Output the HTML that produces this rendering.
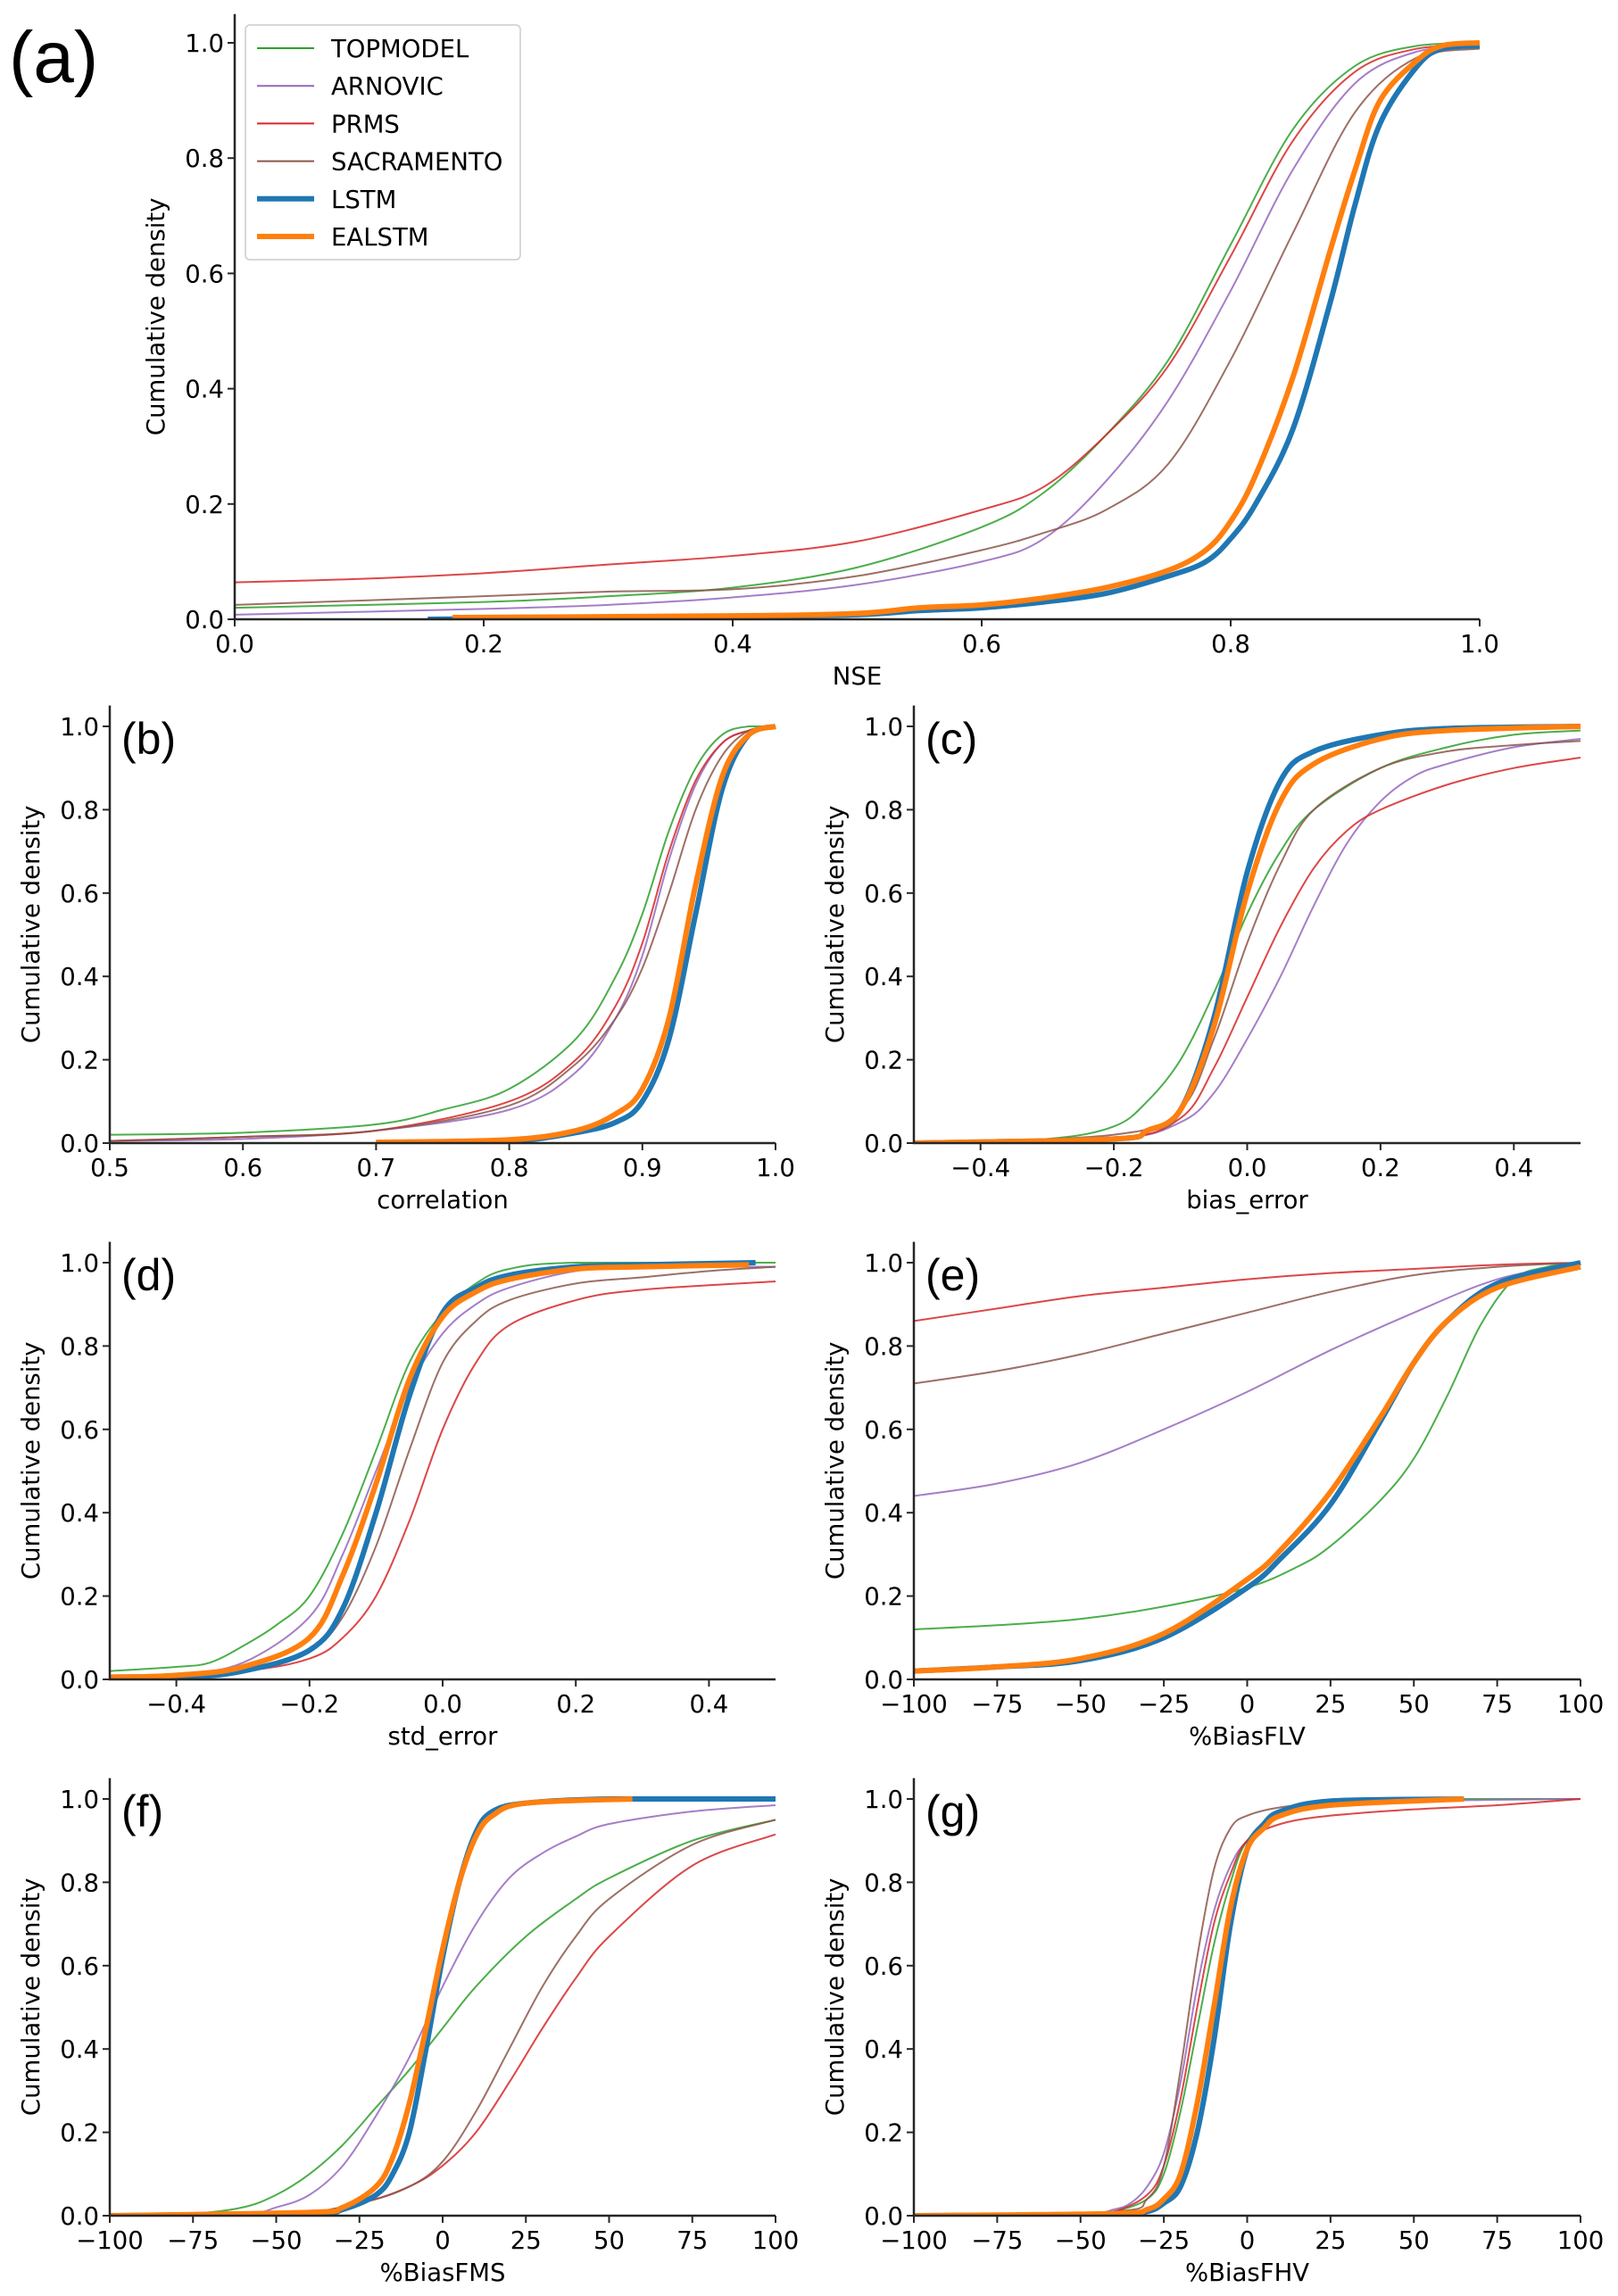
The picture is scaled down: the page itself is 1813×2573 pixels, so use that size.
<!DOCTYPE html>
<html><head><meta charset="utf-8">
<style>
html,body{margin:0;padding:0;background:#fff;}
svg{display:block;}
text{font-family:"DejaVu Sans","Liberation Sans",sans-serif;fill:#000;}
.pl{font-family:"Liberation Sans",sans-serif;}
</style></head>
<body>
<svg id="fig" width="1813" height="2573" viewBox="0 0 1813 2573" xmlns="http://www.w3.org/2000/svg"></svg>
<script>
const models = ["TOPMODEL","ARNOVIC","PRMS","SACRAMENTO","LSTM","EALSTM"];
const colors = ["#2ca02c","#9467bd","#d62728","#8c564b","#1f77b4","#ff7f0e"];

// Panel (a) NSE
const aX = [[0,0.2,0.3,0.4,0.5,0.6,0.65,0.7,0.75,0.8,0.85,0.9,0.95,1],
 [0,0.2,0.3,0.4,0.5,0.6,0.65,0.7,0.75,0.8,0.85,0.9,0.95,1],
 [0,0.1,0.2,0.3,0.4,0.5,0.6,0.65,0.7,0.75,0.8,0.85,0.9,0.95,1],
 [0,0.2,0.3,0.4,0.5,0.6,0.65,0.7,0.75,0.8,0.85,0.9,0.95,1],
 [0.155,0.3,0.4,0.5,0.55,0.6,0.65,0.7,0.75,0.78,0.8,0.82,0.85,0.88,0.9,0.92,0.95,0.97,1],
 [0.175,0.4,0.5,0.55,0.6,0.65,0.7,0.75,0.78,0.8,0.82,0.85,0.88,0.9,0.92,0.95,0.97,1]];
const aY = [[0.02,0.03,0.04,0.055,0.09,0.16,0.22,0.32,0.45,0.65,0.85,0.96,0.995,1],
 [0.008,0.018,0.025,0.038,0.06,0.1,0.14,0.24,0.38,0.57,0.78,0.93,0.985,0.995],
 [0.064,0.07,0.08,0.095,0.11,0.135,0.19,0.23,0.32,0.44,0.63,0.83,0.95,0.99,0.997],
 [0.025,0.04,0.048,0.052,0.075,0.12,0.15,0.19,0.27,0.45,0.67,0.88,0.975,0.99],
 [0,0.003,0.005,0.008,0.015,0.02,0.03,0.045,0.075,0.1,0.14,0.2,0.33,0.55,0.72,0.86,0.96,0.99,0.995],
 [0.003,0.006,0.01,0.02,0.025,0.037,0.055,0.085,0.12,0.17,0.25,0.42,0.64,0.78,0.9,0.97,0.995,1]];
// Panel (b) correlation
const bX = [[0.5,0.6,0.7,0.75,0.8,0.85,0.88,0.9,0.92,0.94,0.96,0.98,1],
 [0.5,0.6,0.7,0.8,0.85,0.88,0.9,0.92,0.94,0.96,0.98,1],
 [0.5,0.6,0.7,0.8,0.85,0.88,0.9,0.92,0.94,0.96,0.98,1],
 [0.5,0.6,0.7,0.8,0.85,0.88,0.9,0.92,0.94,0.96,0.98,1],
 [0.7,0.8,0.85,0.88,0.9,0.92,0.94,0.96,0.98,1],
 [0.7,0.8,0.85,0.88,0.9,0.92,0.94,0.96,0.98,1]];
const bY = [[0.02,0.025,0.045,0.08,0.13,0.25,0.4,0.55,0.75,0.9,0.98,1,1],
 [0.005,0.01,0.03,0.08,0.17,0.3,0.45,0.68,0.86,0.96,0.99,1],
 [0.005,0.015,0.03,0.1,0.2,0.33,0.48,0.7,0.87,0.96,0.99,1],
 [0.005,0.015,0.03,0.09,0.19,0.3,0.42,0.6,0.8,0.93,0.99,1],
 [0,0.005,0.025,0.05,0.1,0.25,0.55,0.85,0.98,1],
 [0.002,0.008,0.03,0.07,0.13,0.3,0.62,0.88,0.98,1]];
// Panel (c) bias_error
const cX = [[-0.5,-0.3,-0.2,-0.15,-0.1,-0.05,0,0.05,0.1,0.2,0.3,0.4,0.5],
 [-0.5,-0.2,-0.1,-0.05,0,0.05,0.1,0.15,0.2,0.25,0.3,0.4,0.5],
 [-0.5,-0.2,-0.1,-0.05,0,0.05,0.1,0.15,0.2,0.3,0.4,0.5],
 [-0.5,-0.2,-0.1,-0.05,0,0.05,0.1,0.2,0.3,0.4,0.5],
 [-0.5,-0.2,-0.15,-0.1,-0.05,0,0.05,0.1,0.2,0.3,0.5],
 [-0.5,-0.2,-0.15,-0.1,-0.05,0,0.05,0.1,0.2,0.3,0.5]];
const cY = [[0,0.01,0.04,0.1,0.2,0.36,0.55,0.7,0.8,0.9,0.95,0.98,0.99],
 [0,0.01,0.05,0.12,0.25,0.4,0.57,0.72,0.82,0.88,0.91,0.95,0.97],
 [0,0.01,0.06,0.18,0.35,0.52,0.66,0.75,0.8,0.86,0.9,0.925],
 [0,0.02,0.08,0.25,0.48,0.67,0.8,0.9,0.94,0.955,0.965],
 [0,0.01,0.03,0.08,0.3,0.65,0.87,0.94,0.98,0.995,1],
 [0,0.01,0.03,0.08,0.28,0.6,0.82,0.91,0.97,0.99,1]];
// Panel (d) std_error
const dX = [[-0.5,-0.4,-0.35,-0.3,-0.25,-0.2,-0.15,-0.1,-0.05,0,0.05,0.1,0.2,0.5],
 [-0.5,-0.4,-0.3,-0.2,-0.15,-0.1,-0.05,0,0.05,0.1,0.2,0.3,0.5],
 [-0.5,-0.3,-0.2,-0.15,-0.1,-0.05,0,0.05,0.1,0.2,0.3,0.5],
 [-0.5,-0.3,-0.2,-0.15,-0.1,-0.05,0,0.05,0.1,0.2,0.3,0.4,0.5],
 [-0.5,-0.4,-0.3,-0.2,-0.15,-0.1,-0.05,0,0.05,0.1,0.2,0.3,0.47],
 [-0.5,-0.4,-0.3,-0.2,-0.15,-0.1,-0.05,0,0.05,0.1,0.2,0.3,0.46]];
const dY = [[0.02,0.03,0.04,0.08,0.13,0.2,0.35,0.55,0.76,0.88,0.95,0.985,1,1],
 [0.01,0.012,0.04,0.15,0.3,0.5,0.7,0.83,0.9,0.94,0.98,0.99,0.99],
 [0,0.02,0.05,0.1,0.2,0.38,0.6,0.76,0.85,0.91,0.935,0.955],
 [0,0.02,0.07,0.15,0.32,0.55,0.76,0.86,0.91,0.95,0.965,0.98,0.99],
 [0,0.003,0.02,0.07,0.17,0.4,0.68,0.88,0.94,0.97,0.99,0.995,1],
 [0.005,0.01,0.03,0.1,0.25,0.47,0.72,0.87,0.93,0.96,0.985,0.99,0.995]];
// Panel (e) %BiasFLV
const eX = [[-100,-75,-50,-25,0,15,25,40,50,60,70,80,90,100],
 [-100,-75,-50,-25,0,25,50,75,100],
 [-100,-75,-50,-25,0,25,50,75,100],
 [-100,-75,-50,-25,0,25,50,75,100],
 [-100,-75,-50,-25,0,10,25,40,50,60,75,100],
 [-100,-75,-50,-25,0,10,25,40,50,60,75,100]];
const eY = [[0.12,0.13,0.145,0.175,0.22,0.27,0.32,0.43,0.53,0.68,0.85,0.96,0.99,1],
 [0.44,0.47,0.52,0.6,0.69,0.79,0.88,0.96,1],
 [0.86,0.89,0.92,0.94,0.96,0.975,0.985,0.995,1],
 [0.71,0.74,0.78,0.83,0.88,0.93,0.97,0.99,1],
 [0.02,0.03,0.045,0.1,0.22,0.29,0.42,0.62,0.76,0.86,0.95,1],
 [0.02,0.03,0.05,0.11,0.24,0.31,0.45,0.63,0.76,0.86,0.94,0.99]];
// Panel (f) %BiasFMS
const fX = [[-100,-75,-60,-50,-40,-30,-20,-10,0,10,25,40,50,75,100],
 [-100,-60,-50,-40,-30,-20,-10,0,10,20,30,40,50,75,100],
 [-100,-50,-25,-10,0,10,20,30,40,50,75,100],
 [-100,-50,-25,-10,0,10,20,30,40,50,75,100],
 [-100,-40,-30,-20,-15,-10,-5,0,5,10,15,25,50,100],
 [-100,-40,-30,-20,-15,-10,-5,0,5,10,15,25,57]];
const fY = [[0,0.005,0.02,0.05,0.1,0.17,0.26,0.35,0.45,0.55,0.67,0.76,0.81,0.9,0.95],
 [0,0.005,0.02,0.05,0.12,0.24,0.38,0.55,0.7,0.81,0.87,0.91,0.94,0.97,0.985],
 [0,0,0.03,0.07,0.12,0.2,0.32,0.45,0.57,0.67,0.84,0.915],
 [0,0,0.03,0.07,0.13,0.25,0.4,0.55,0.67,0.76,0.89,0.95],
 [0,0.005,0.015,0.05,0.1,0.2,0.4,0.62,0.8,0.92,0.97,0.99,1,1],
 [0,0.008,0.02,0.07,0.14,0.27,0.45,0.64,0.8,0.91,0.96,0.99,1]];
// Panel (g) %BiasFHV
const gX = [[-100,-50,-40,-30,-25,-20,-15,-10,-5,0,10,25,50,100],
 [-100,-50,-40,-35,-30,-25,-20,-15,-10,-5,0,10,25,50,100],
 [-100,-50,-40,-30,-25,-20,-15,-10,-5,0,10,25,50,75,100],
 [-100,-40,-30,-25,-20,-15,-10,-5,0,10,25,50],
 [-100,-40,-30,-25,-20,-15,-10,-5,0,5,10,25,65],
 [-100,-40,-30,-25,-20,-15,-10,-5,0,5,10,25,65]];
const gY = [[0,0.003,0.01,0.04,0.1,0.25,0.45,0.65,0.8,0.9,0.97,0.99,1,1],
 [0,0.005,0.015,0.03,0.07,0.15,0.32,0.55,0.73,0.84,0.9,0.96,0.985,0.995,1],
 [0,0.005,0.01,0.05,0.12,0.28,0.5,0.7,0.82,0.9,0.94,0.96,0.975,0.985,1],
 [0,0.01,0.04,0.12,0.35,0.62,0.83,0.93,0.96,0.98,0.99,1],
 [0,0.003,0.01,0.03,0.07,0.2,0.42,0.7,0.88,0.94,0.97,0.995,1],
 [0,0.005,0.015,0.04,0.1,0.27,0.5,0.74,0.88,0.93,0.96,0.985,1]];

const yTicks = [0,0.2,0.4,0.6,0.8,1.0];
const yTickLabels = ["0.0","0.2","0.4","0.6","0.8","1.0"];
const tNSE = [0,0.2,0.4,0.6,0.8,1.0], lNSE = ["0.0","0.2","0.4","0.6","0.8","1.0"];
const tCor = [0.5,0.6,0.7,0.8,0.9,1.0], lCor = ["0.5","0.6","0.7","0.8","0.9","1.0"];
const tErr = [-0.4,-0.2,0,0.2,0.4], lErr = ["\u22120.4","\u22120.2","0.0","0.2","0.4"];
const tPct = [-100,-75,-50,-25,0,25,50,75,100], lPct = ["\u2212100","\u221275","\u221250","\u221225","0","25","50","75","100"];

const FS = 27.5;
const NS="http://www.w3.org/2000/svg";
const svg=document.getElementById('fig');
function mk(tag,attrs,parent){const e=document.createElementNS(NS,tag);for(const k in attrs)e.setAttribute(k,attrs[k]);(parent||svg).appendChild(e);return e;}

const panels=[
 {id:'a',L:263,R:1658,y0:694,u:646,xmin:0,xmax:1,X:aX,Y:aY,t:tNSE,l:lNSE,lab:'NSE',ylx:176,plx:10,ply:92,pls:82},
 {id:'b',L:123,R:869,y0:1281,u:467,xmin:0.5,xmax:1,X:bX,Y:bY,t:tCor,l:lCor,lab:'correlation',ylx:36,plx:136,ply:845,pls:50},
 {id:'c',L:1024,R:1771,y0:1281,u:467,xmin:-0.5,xmax:0.5,X:cX,Y:cY,t:tErr,l:lErr,lab:'bias_error',ylx:937,plx:1037,ply:845,pls:50},
 {id:'d',L:123,R:869,y0:1882,u:467,xmin:-0.5,xmax:0.5,X:dX,Y:dY,t:tErr,l:lErr,lab:'std_error',ylx:36,plx:136,ply:1446,pls:50},
 {id:'e',L:1024,R:1771,y0:1882,u:467,xmin:-100,xmax:100,X:eX,Y:eY,t:tPct,l:lPct,lab:'%BiasFLV',ylx:937,plx:1037,ply:1446,pls:50},
 {id:'f',L:123,R:869,y0:2483,u:467,xmin:-100,xmax:100,X:fX,Y:fY,t:tPct,l:lPct,lab:'%BiasFMS',ylx:36,plx:136,ply:2047,pls:50},
 {id:'g',L:1024,R:1771,y0:2483,u:467,xmin:-100,xmax:100,X:gX,Y:gY,t:tPct,l:lPct,lab:'%BiasFHV',ylx:937,plx:1037,ply:2047,pls:50}
];

function smoothPath(pts){
  let d='M'+pts[0][0].toFixed(2)+','+pts[0][1].toFixed(2);
  for(let i=0;i<pts.length-1;i++){
    const p0=pts[Math.max(0,i-1)],p1=pts[i],p2=pts[i+1],p3=pts[Math.min(pts.length-1,i+2)];
    let c1x=p1[0]+(p2[0]-p0[0])/6,c1y=p1[1]+(p2[1]-p0[1])/6;
    let c2x=p2[0]-(p3[0]-p1[0])/6,c2y=p2[1]-(p3[1]-p1[1])/6;
    const lo=Math.min(p1[1],p2[1]),hi=Math.max(p1[1],p2[1]);
    c1y=Math.min(hi,Math.max(lo,c1y));c2y=Math.min(hi,Math.max(lo,c2y));
    d+=' C'+c1x.toFixed(2)+','+c1y.toFixed(2)+' '+c2x.toFixed(2)+','+c2y.toFixed(2)+' '+p2[0].toFixed(2)+','+p2[1].toFixed(2);
  }
  return d;
}

panels.forEach(p=>{
  const sx=v=>p.L+(v-p.xmin)/(p.xmax-p.xmin)*(p.R-p.L);
  const sy=v=>p.y0-v*p.u;
  const g=mk('g',{});
  
  
  const cg=mk('g',{'clip-path':'url(#clip-'+p.id+')'},g);
  const defs=mk('defs',{},g);
  const cp=mk('clipPath',{id:'clip-'+p.id},defs);
  mk('rect',{x:p.L,y:p.y0-1.05*p.u-5,width:p.R-p.L+6,height:1.05*p.u+5},cp);
  for(let s=0;s<6;s++){
    const pts=p.X[s].map((x,i)=>[sx(x),sy(p.Y[s][i])]);
    const path=mk('path',{d:smoothPath(pts),fill:'none',stroke:colors[s],'stroke-width':s>=4?6:2,'stroke-opacity':s>=4?1:0.85,'stroke-linejoin':'round'},cg);
    
    
  }
  const sp=mk('path',{d:'M'+p.L+','+(p.y0-1.05*p.u)+' L'+p.L+','+p.y0+' L'+p.R+','+p.y0,fill:'none',stroke:'#262626','stroke-width':2.5},g);
  
  
  yTicks.forEach((v,i)=>{
    mk('line',{x1:p.L-8,x2:p.L,y1:sy(v),y2:sy(v),stroke:'#262626','stroke-width':2},g);
    const t=mk('text',{x:p.L-12,y:sy(v)+10,'text-anchor':'end','font-size':FS},g);
    t.textContent=yTickLabels[i];
    
    
  });
  p.t.forEach((v,i)=>{
    mk('line',{x1:sx(v),x2:sx(v),y1:p.y0,y2:p.y0+8,stroke:'#262626','stroke-width':2},g);
    const t=mk('text',{x:sx(v),y:p.y0+37,'text-anchor':'middle','font-size':FS},g);
    t.textContent=p.l[i];
    
    
  });
  const xl=mk('text',{x:(p.L+p.R)/2,y:p.y0+73,'text-anchor':'middle','font-size':FS},g);
  xl.textContent=p.lab;
  
  
  const ymid=p.y0-0.525*p.u;
  const yl=mk('text',{x:p.ylx,y:ymid,'text-anchor':'middle','font-size':FS,transform:'rotate(-90 '+p.ylx+' '+ymid+')','dominant-baseline':'middle'},g);
  yl.textContent='Cumulative density';
  
  
  const pl=mk('text',{x:p.plx,y:p.ply,'font-size':p.pls,'class':'pl'},g);
  pl.textContent='('+p.id+')';
  
  
});

const lg=mk('g',{});


mk('rect',{x:275,y:28,width:308,height:263,rx:5,fill:'#fff','fill-opacity':0.8,stroke:'#ccc','stroke-width':1.5},lg);
models.forEach((m,i)=>{
  const y=54+i*42.2;
  const e=mk('g',{},lg);
  
  
  mk('line',{x1:288,x2:352,y1:y,y2:y,stroke:colors[i],'stroke-width':i>=4?6:2},e);
  const t=mk('text',{x:371,y:y+10,'font-size':FS},e);
  t.textContent=m;
});
</script>
</body></html>
